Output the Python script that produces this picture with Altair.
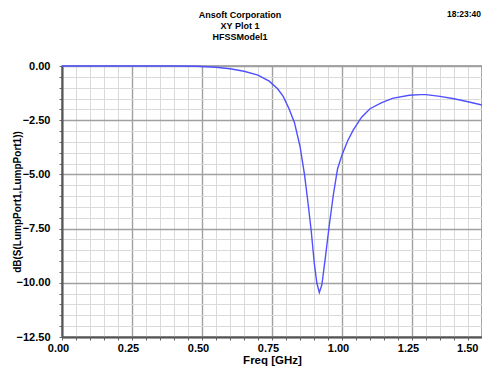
import altair as alt
import pandas as pd

# Data
freq = [0.0, 0.1, 0.2, 0.3, 0.4, 0.48, 0.55, 0.6, 0.65, 0.7, 0.74, 0.77, 0.79,
        0.81, 0.83, 0.85, 0.866, 0.878, 0.89, 0.901, 0.91, 0.919, 0.928, 0.94,
        0.955, 0.969, 0.984, 1.0, 1.02, 1.04, 1.07, 1.1, 1.14, 1.18, 1.24, 1.28,
        1.3, 1.35, 1.4, 1.45, 1.5]
db = [0.0, 0.0, 0.0, 0.0, 0.0, -0.01, -0.06, -0.13, -0.24, -0.42, -0.7, -1.05,
      -1.4, -1.95, -2.6, -3.7, -5.0, -6.25, -7.6, -9.1, -10.0, -10.45, -10.1,
      -8.9, -7.3, -5.95, -4.75, -4.1, -3.46, -2.96, -2.36, -1.97, -1.7, -1.49,
      -1.35, -1.32, -1.32, -1.4, -1.51, -1.65, -1.8]

x_major = [0.0, 0.25, 0.5, 0.75, 1.0, 1.25, 1.5]
x_minor = [0.0, 0.05, 0.1, 0.15, 0.2, 0.25, 0.3, 0.35, 0.4, 0.45, 0.5, 0.55,
           0.6, 0.65, 0.7, 0.75, 0.8, 0.85, 0.9, 0.95, 1.0, 1.05, 1.1, 1.15,
           1.2, 1.25, 1.3, 1.35, 1.4, 1.45, 1.5]
y_major = [0.0, -2.5, -5.0, -7.5, -10.0, -12.5]
y_minor = [0.0, -0.5, -1.0, -1.5, -2.0, -2.5, -3.0, -3.5, -4.0, -4.5, -5.0,
           -5.5, -6.0, -6.5, -7.0, -7.5, -8.0, -8.5, -9.0, -9.5, -10.0, -10.5,
           -11.0, -11.5, -12.0, -12.5]

title_lines = ["Ansoft Corporation", "XY Plot 1", "HFSSModel1"]
time_label = "18:23:40"

FONT = "Liberation Sans"
W, H = 420, 271

df = pd.DataFrame({"freq": freq, "db": db})

xscale = alt.Scale(domain=[0, 1.5], nice=False, zero=False)
yscale = alt.Scale(domain=[-12.5, 0], nice=False, zero=False)

minor = alt.Chart(df).mark_line(opacity=0).encode(
    x=alt.X("freq:Q", scale=xscale,
            axis=alt.Axis(values=x_minor, labels=False, title=None, grid=True,
                          gridColor="#dadada", gridWidth=1, domain=False,
                          ticks=True, tickSize=3, tickColor="#666",
                          orient="bottom")),
    y=alt.Y("db:Q", scale=yscale,
            axis=alt.Axis(values=y_minor, labels=False, title=None, grid=True,
                          gridColor="#dadada", gridWidth=1, domain=False,
                          ticks=True, tickSize=3, tickColor="#666",
                          orient="left")),
)

major = alt.Chart(df).mark_line(color="#5050ff", strokeWidth=1.4).encode(
    x=alt.X("freq:Q", scale=xscale,
            axis=alt.Axis(values=x_major, format=".2f", title="Freq [GHz]",
                          grid=True, gridColor="#a0a0a0", gridWidth=1.4,
                          domain=True, domainColor="#555", domainWidth=2,
                          ticks=False, labelPadding=5, labelOffset=-4,
                          labelAlign={"condition": {"test": "datum.value >= 1.5",
                                                    "value": "right"},
                                      "value": "center"},
                          labelFont=FONT, labelFontSize=11, labelFontWeight="bold",
                          labelColor="#000", labelFlush=False,
                          titleFont=FONT, titleFontSize=11.5, titleFontWeight="bold",
                          titleColor="#000", titlePadding=1, orient="bottom")),
    y=alt.Y("db:Q", scale=yscale,
            axis=alt.Axis(values=y_major, format=".2f",
                          title="dB(S(LumpPort1,LumpPort1))",
                          grid=True, gridColor="#a0a0a0", gridWidth=1.4,
                          domain=True, domainColor="#555", domainWidth=2,
                          ticks=False, labelPadding=12,
                          labelFont=FONT, labelFontSize=11, labelFontWeight="bold",
                          labelColor="#000", labelFlush=False,
                          titleFont=FONT, titleFontSize=10, titleFontWeight="bold",
                          titleColor="#000", titleAngle=270,
                          titleBaseline="middle", titleAlign="center",
                          titleX=-45, titleY=H / 2, orient="left")),
)

def txt(s, x, y, align="center", size=9):
    return alt.Chart(pd.DataFrame({"t": [s]})).mark_text(
        font=FONT, fontSize=size, fontWeight="bold", color="#000",
        align=align, baseline="middle").encode(
        text="t:N", x=alt.value(x), y=alt.value(y))

texts = [
    txt(title_lines[0], 178, -51),
    txt(title_lines[1], 178, -40),
    txt(title_lines[2], 178, -29),
    txt(time_label, 419, -52, align="right", size=8.5),
]

chart = alt.layer(minor, major, *texts).resolve_axis(
    x="independent", y="independent"
).properties(
    width=W, height=H,
    padding={"left": 54, "top": 58, "right": 0, "bottom": 30},
    autosize=alt.AutoSizeParams(type="none"),
).configure_view(stroke="#8a8a8a", strokeWidth=1.5)

chart.save("out.html", embed_options={"renderer": "svg", "actions": False})
